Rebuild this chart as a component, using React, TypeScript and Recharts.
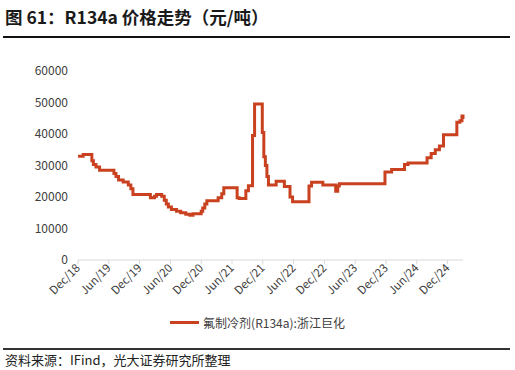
import { LineChart, Line, XAxis, YAxis } from "recharts";

// months since Dec/18 where the price changes, and the price from that point (元/吨)
const months = [
  0, 1, 2.7, 3.0, 3.5, 4.2, 7.0, 7.4, 7.9, 8.8, 9.8, 10.3, 10.7, 14.1, 14.9, 15.3,
  16.3, 16.8, 17.2, 17.6, 18.2, 19.2, 20.0, 21.0, 21.8, 22.4, 24.0, 24.3, 24.7,
  25.1, 27.3, 28.0, 28.4, 31.0, 31.4, 32.7, 33.2, 34.0, 34.4, 35.9, 36.2, 36.5,
  36.8, 37.1, 38.6, 40.2, 41.3, 41.8, 45.0, 45.5, 47.7, 50.2, 50.6, 50.9, 59.8,
  61.1, 63.6, 64.3, 68.0, 68.8, 69.6, 70.4, 71.2, 73.8, 74.4, 74.8, 75,
];
const prices = [
  32900, 33500, 31500, 30300, 29500, 28500, 27500, 26500, 25400, 24800, 23800,
  22600, 20800, 19800, 20200, 20800, 20200, 19000, 17800, 16800, 16000, 15500,
  15000, 14500, 14200, 14700, 15500, 16500, 17800, 18800, 19800, 21000, 22900,
  19800, 19500, 22000, 23600, 39500, 49500, 40500, 32800, 30000, 26500, 23800,
  25000, 23300, 20000, 18500, 23500, 24700, 23800, 21800, 23500, 24200, 27900,
  28700, 30300, 30800, 32500, 33800, 35000, 36200, 39800, 43700, 44200, 45700,
  44800,
];
const tickMonths = [0, 6, 12, 18, 24, 30, 36, 42, 48, 54, 60, 66, 72];
const tickLabels = [
  "Dec/18", "Jun/19", "Dec/19", "Jun/20", "Dec/20", "Jun/21", "Dec/21",
  "Jun/22", "Dec/22", "Jun/23", "Dec/23", "Jun/24", "Dec/24",
];
const yTicks = [0, 10000, 20000, 30000, 40000, 50000, 60000];
const seriesName = "氟制冷剂(R134a):浙江巨化";

const data = months.map((m, i) => ({ m, price: prices[i] }));

const FONT = '"Noto Sans CJK SC", "Noto Sans", sans-serif';
const RED = "#C9411F";

const DateTick = (props: any) => {
  const { x, y, payload } = props;
  const i = tickMonths.indexOf(payload.value);
  return (
    <text
      x={x}
      y={y}
      dy={4}
      textAnchor="end"
      fontSize={11.5}
      fill="#404040"
      fontFamily={FONT}
      transform={`rotate(-45, ${x}, ${y})`}
    >
      {tickLabels[i]}
    </text>
  );
};

export default function App() {
  return (
    <div
      style={{
        position: "absolute",
        left: 0,
        top: 0,
        width: 515,
        height: 370,
        background: "#fff",
        fontFamily: FONT,
      }}
    >
      <div
        style={{
          position: "absolute",
          left: 5,
          top: 4,
          fontSize: 17.5,
          fontWeight: 700,
          color: "#1a1a1a",
          whiteSpace: "nowrap",
        }}
      >
        图 61：R134a 价格走势（元/吨）
      </div>
      <div
        style={{
          position: "absolute",
          left: 3,
          top: 36,
          width: 507,
          height: 2,
          background: "#111",
        }}
      />
      <div style={{ position: "absolute", left: 0, top: 0 }}>
        <LineChart
          width={515}
          height={370}
          data={data}
          margin={{ top: 71, right: 52, bottom: 0, left: 0 }}
        >
          <XAxis
            dataKey="m"
            type="number"
            domain={[0, 75]}
            ticks={tickMonths}
            height={110}
            interval={0}
            axisLine={{ stroke: "#D9D9D9" }}
            tickLine={{ stroke: "#D9D9D9" }}
            tickSize={4}
            tickMargin={2}
            tick={<DateTick />}
          />
          <YAxis
            type="number"
            domain={[0, 60000]}
            ticks={yTicks}
            width={78}
            axisLine={false}
            tickLine={false}
            tickSize={0}
            tickMargin={10}
            tick={{ fontSize: 12, fill: "#404040", fontFamily: FONT }}
          />
          <Line
            type="stepAfter"
            dataKey="price"
            name={seriesName}
            stroke={RED}
            strokeWidth={3}
            dot={false}
            isAnimationActive={false}
          />
        </LineChart>
      </div>
      <div
        style={{
          position: "absolute",
          left: 0,
          top: 314,
          width: 515,
          display: "flex",
          justifyContent: "center",
          alignItems: "center",
          fontSize: 12,
          color: "#404040",
        }}
      >
        <span
          style={{
            display: "inline-block",
            width: 29,
            height: 3,
            background: RED,
            marginRight: 4,
          }}
        />
        {seriesName}
      </div>
      <div
        style={{
          position: "absolute",
          left: 3,
          top: 348,
          width: 507,
          height: 1.5,
          background: "#333",
        }}
      />
      <div
        style={{
          position: "absolute",
          left: 5,
          top: 350,
          fontSize: 13,
          color: "#222",
          whiteSpace: "nowrap",
        }}
      >
        资料来源：IFind，光大证券研究所整理
      </div>
    </div>
  );
}
